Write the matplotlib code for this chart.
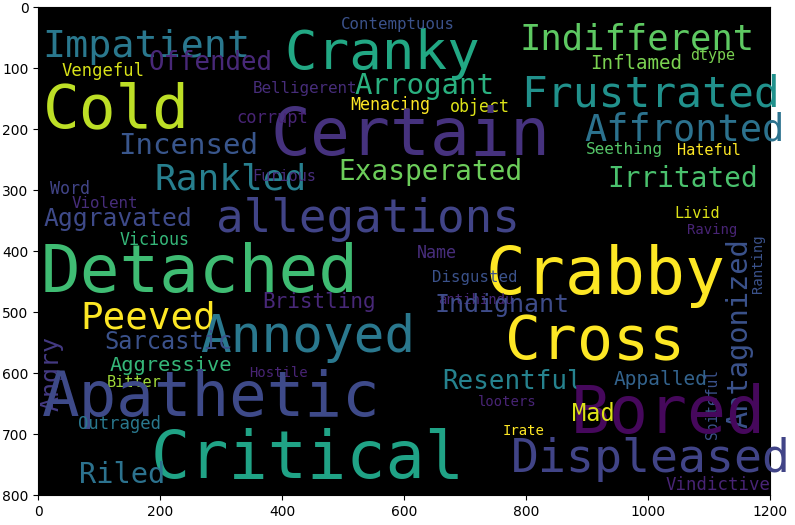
import numpy as np
import matplotlib.pyplot as plt

words = ['Impatient', 'Cranky', 'Indifferent', 'Contemptuous', 'Offended', 'Inflamed', 'dtype',
         'Vengeful', 'Cold', 'Arrogant', 'Frustrated', 'Belligerent', 'Menacing', 'object',
         'Certain', 'corrupt', 'Affronted', 'Incensed', 'Seething', 'Hateful', 'Rankled',
         'Furious', 'Exasperated', 'Irritated', 'Word', 'Violent', 'allegations', 'Aggravated',
         'Antagonized', 'Livid', 'Raving', 'Ranting', 'Vicious', 'Name', 'Detached', 'Crabby',
         'Disgusted', 'antihindu', 'Peeved', 'Bristling', 'Indignant', 'Spiteful', 'Annoyed',
         'Cross', 'Sarcastic', 'Angry', 'Aggressive', 'Bitter', 'Hostile', 'Resentful',
         'Appalled', 'Apathetic', 'Bored', 'looters', 'Mad', 'Outraged', 'Irate', 'Critical',
         'Displeased', 'Riled', 'Vindictive']
x = [177, 564, 982, 590, 282, 980, 1105, 107, 128, 633, 1004, 437, 577, 724,
     610, 384, 1060, 245, 960, 1100, 316, 403, 643, 1057, 52, 110, 541, 131,
     1150, 1080, 1105, 1180, 190, 654, 265, 930, 716, 718, 180, 460, 760, 1105, 441,
     913, 214, 22, 218, 158, 393, 778, 1020, 283, 1033, 769, 910, 133, 795, 442,
     1005, 138, 1115]
y = [66, 76, 53, 28, 92, 92, 80, 105, 170, 130, 143, 134, 161, 163,
     212, 181, 202, 227, 233, 235, 283, 277, 270, 281, 298, 322, 348, 348,
     535, 338, 365, 420, 382, 403, 438, 440, 443, 480, 510, 483, 488, 650, 542,
     550, 548, 600, 588, 615, 600, 614, 610, 642, 668, 647, 666, 683, 695, 742,
     742, 766, 783]
sizes = [27.6, 39, 25.6, 11.3, 18.5, 13.8, 10.8, 12.4, 44, 21, 31, 11.4, 12, 12,
         47.8, 12.3, 26.6, 21, 11.5, 11, 26, 11, 20, 20, 12, 11.4, 33, 17.7,
         20.7, 11, 10, 10, 12, 12, 47.5, 47.8, 11.3, 10, 27, 15, 18, 10.5, 36.7,
         43, 17, 18, 14.7, 11, 10, 18.6, 14, 45, 46.6, 10, 17, 12.4, 10, 47,
         33.5, 20.6, 12.5]
colors = ['#2a788e', '#22a884', '#5ec962', '#3b528b', '#482878', '#7ad151', '#7ad151',
          '#d8e219', '#bddf26', '#2ab07f', '#21918c', '#472d7b', '#fde725', '#dde318',
          '#46327e', '#482475', '#2c728e', '#39568c', '#54c568', '#fde725', '#277f8e',
          '#472d7b', '#6ccd5a', '#4ac16d', '#414487', '#472d7b', '#414487', '#3e4a89',
          '#3b528b', '#dde318', '#482475', '#3b528b', '#35b779', '#472d7b', '#3fbc73', '#fde725',
          '#3b528b', '#482878', '#fde725', '#482878', '#3e4c8a', '#3b528b', '#2a788e',
          '#fde725', '#3b528b', '#443a83', '#35b779', '#a0da39', '#482475', '#26828e',
          '#33638d', '#3e4a89', '#46085c', '#482475', '#dde318', '#2a788e', '#fde725', '#20a386',
          '#414487', '#2c728e', '#482475']
rotations = {'Antagonized': 90, 'Ranting': 90, 'Spiteful': 90, 'Angry': 90}

fig = plt.figure(figsize=(7.95, 5.25), dpi=100)
ax = fig.add_axes([0.048, 0.048, 0.921, 0.947])
ax.imshow(np.zeros((800, 1200, 3)))
for w, xi, yi, s, c in zip(words, x, y, sizes, colors):
    ax.text(xi, yi, w, fontsize=s, color=c, ha='center', va='center',
            family='DejaVu Sans Mono', rotation=rotations.get(w, 0))
ax.set_xlim(0, 1200)
ax.set_ylim(800, 0)
fig.savefig('out.png')
